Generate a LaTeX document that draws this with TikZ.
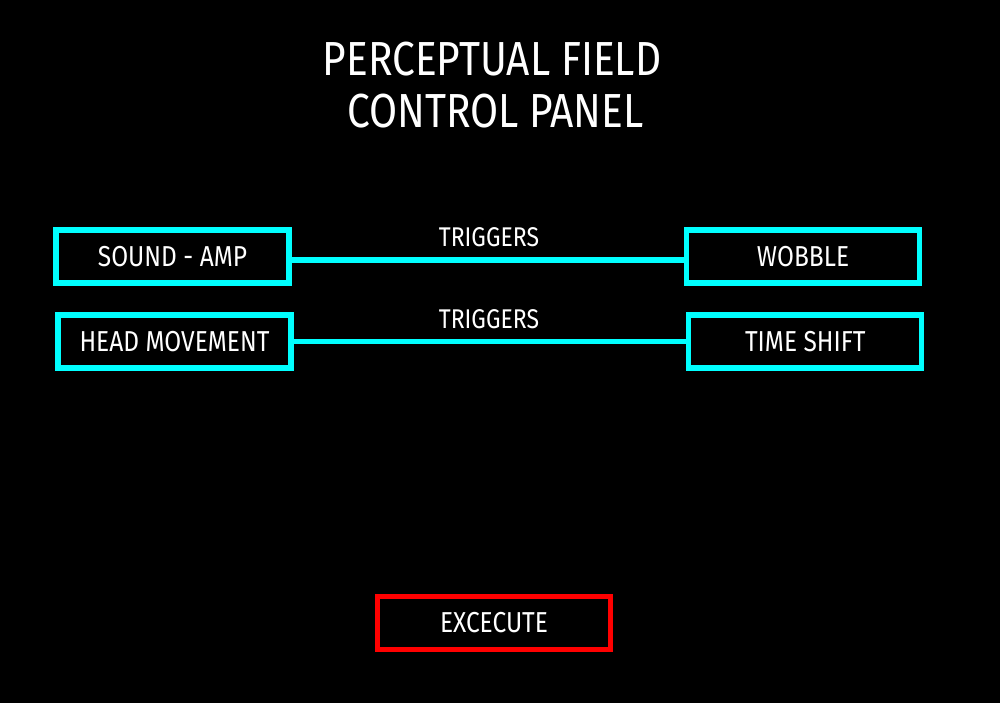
\documentclass[tikz,border=0pt]{standalone}
\usepackage{fontspec}
\setmainfont[FakeStretch=0.85]{Fira Sans}
\usetikzlibrary{positioning}
\definecolor{panelcyan}{HTML}{00FFFF}
\definecolor{panelred}{HTML}{FF0000}
\tikzset{
  ctrlbox/.style={draw=panelcyan, line width=0.106cm, minimum width=4.66cm,
    minimum height=1.06cm, inner sep=0pt, text=white,
    font=\fontsize{16.4}{18}\selectfont},
  runbox/.style={ctrlbox, draw=panelred},
  wire/.style={draw=panelcyan, line width=0.106cm},
  wirelabel/.style={text=white, inner sep=0pt, font=\fontsize{15.4}{18}\selectfont},
  titleline/.style={text=white, inner sep=0pt, font=\fontsize{27.2}{30}\selectfont}
}
\begin{document}
\begin{tikzpicture}[x=0.02cm,y=-0.02cm]
   \fill[black] (0,0) rectangle (1000,703);
   \useasboundingbox (0,0) rectangle (1000,703);

   \node[titleline] (title1) at (492,59.5) {PERCEPTUAL FIELD};
   \node[titleline] (title2) at (495.5,111) {CONTROL PANEL};

   \node[ctrlbox] (sound) at (172.5,256.5) {SOUND - AMP};
   \node[ctrlbox] (head) at (174.5,341.5) {HEAD MOVEMENT};
   \node[ctrlbox] (wobble) at (803,256.5) {WOBBLE};
   \node[ctrlbox] (shift) at (805.3,341.5) {TIME SHIFT};

   \draw[wire] ([yshift=-0.07cm]sound.east) -- ([yshift=-0.07cm]wobble.west);
   \draw[wire] (head.east) -- (shift.west);
   \node[wirelabel] (trig1) at (489,237.5) {TRIGGERS};
   \node[wirelabel] (trig2) at (489,319) {TRIGGERS};

   \node[runbox] (run) at (494,623) {EXCECUTE};
 \end{tikzpicture}
\end{document}
